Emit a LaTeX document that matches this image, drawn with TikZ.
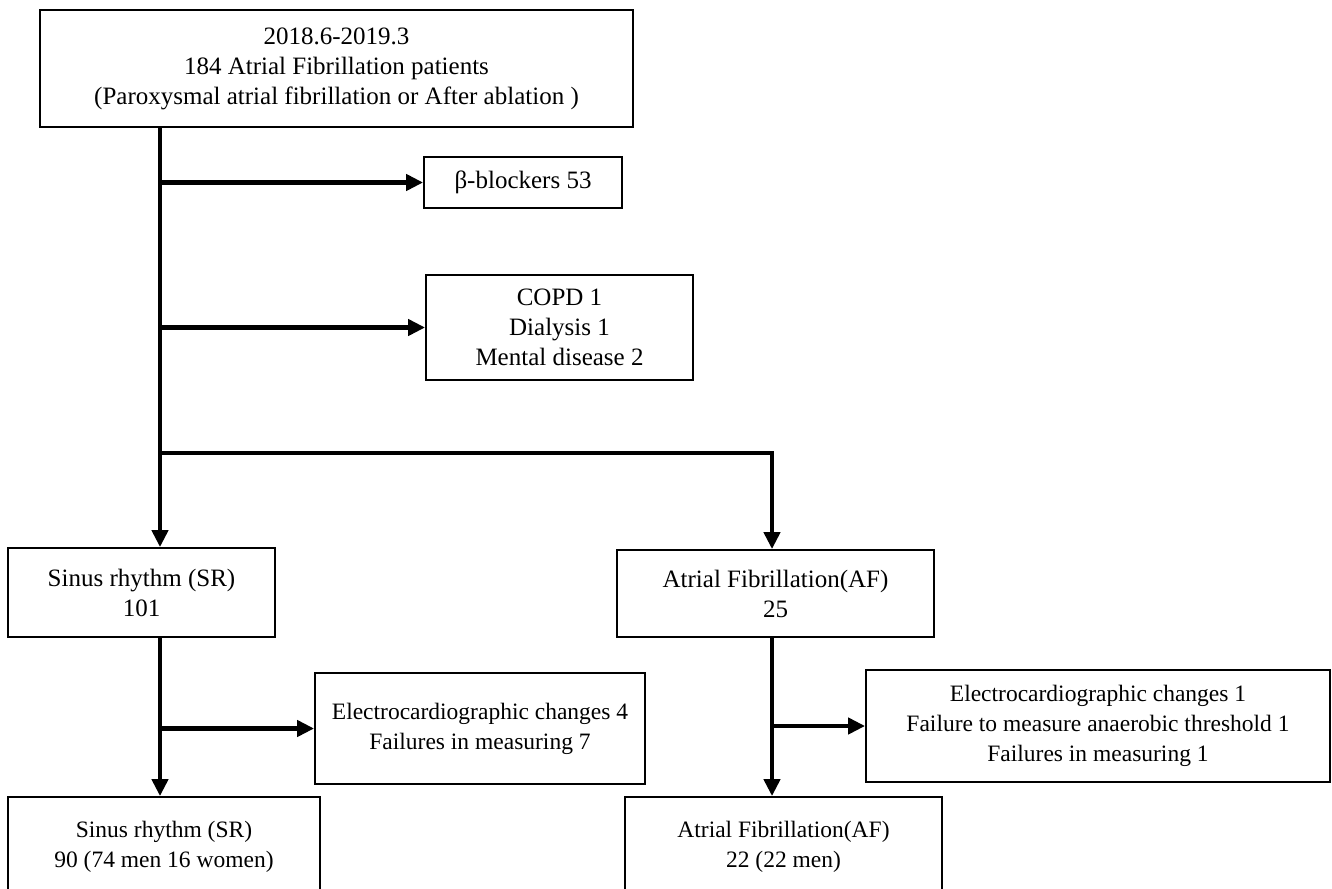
\documentclass[tikz,border=0pt]{standalone}
\usepackage{fontspec}
\setmainfont{Liberation Serif}
\usetikzlibrary{arrows.meta}

\begin{document}
\begin{tikzpicture}[x=1pt,y=-1pt,
  box/.style={draw,line width=1.8pt,align=center,inner sep=0pt,
    font=\fontsize{25}{30}\selectfont},
  lowbox/.style={box,font=\fontsize{23.5}{30}\selectfont},
  flow/.style={line width=4.5pt,-{Triangle[length=17pt,width=16pt]}}]
\clip (0,0) rectangle (1332,888);
\node[box,minimum width=593,minimum height=117] (top) at (336.5,68.5)
  {2018.6-2019.3\\184 Atrial Fibrillation patients\\(Paroxysmal atrial fibrillation or After ablation )};
\node[box,minimum width=198,minimum height=51] (beta) at (523,182.5) {β-blockers 53};
\node[box,minimum width=267,minimum height=105] (copd) at (559.5,327.5) {COPD 1\\Dialysis 1\\Mental disease 2};
\node[box,minimum width=267,minimum height=89] (sr1) at (141.5,592.5) {Sinus rhythm (SR)\\101};
\node[box,minimum width=317,minimum height=87] (af1) at (775.5,593.5) {Atrial Fibrillation(AF)\\25};
\node[lowbox,minimum width=330,minimum height=111] (ex1) at (480,728.5)
  {Electrocardiographic changes 4\\Failures in measuring 7};
\node[lowbox,minimum width=464,minimum height=112] (ex2) at (1098,726)
  {Electrocardiographic changes 1\\Failure to measure anaerobic threshold 1\\Failures in measuring 1};
\node[lowbox,minimum width=312,minimum height=100] (sr2) at (164,847) {Sinus rhythm (SR)\\90 (74 men 16 women)};
\node[lowbox,minimum width=317,minimum height=100] (af2) at (783.5,847) {Atrial Fibrillation(AF)\\22 (22 men)};
% trunks
\coordinate (trunk) at (160,0); \coordinate (aftrunk) at (772,0);
\coordinate (split) at (160,453);
\draw[flow] (top.south -| trunk) -- (sr1.north -| trunk);
\draw[flow] (beta.west -| trunk) -- (beta.west);
\draw[flow] (copd.west -| trunk) -- (copd.west);
\draw[flow] (split) -| (af1.north -| aftrunk);
\draw[flow] (sr1.south -| trunk) -- (sr2.north -| trunk);
\draw[flow] (ex1.west -| trunk) -- (ex1.west);
\draw[flow] (af1.south -| aftrunk) -- (af2.north -| aftrunk);
\draw[flow] (ex2.west -| aftrunk) -- (ex2.west);
\end{tikzpicture}
\end{document}
